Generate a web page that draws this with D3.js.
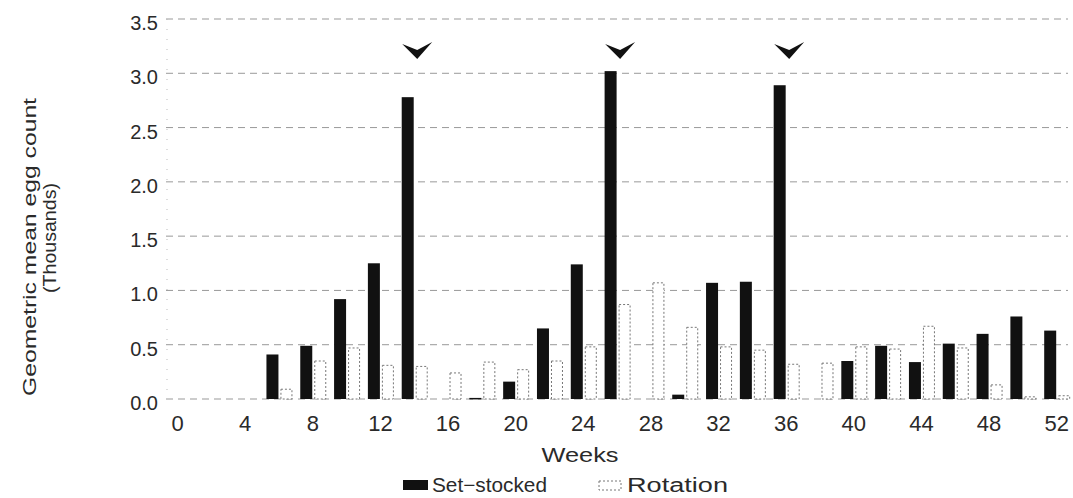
<!DOCTYPE html>
<html>
<head>
<meta charset="utf-8">
<script src="https://cdnjs.cloudflare.com/ajax/libs/d3/7.8.5/d3.min.js"></script>
<style>
  html, body { margin: 0; padding: 0; background: #fff; }
  svg { display: block; }
  text { font-family: "Liberation Sans", Arial, Helvetica, sans-serif; fill: #2a2a2a; }
</style>
</head>
<body>
<svg id="chart" width="1073" height="498"></svg>
<script>
// ---- data ----
const weeks = [0, 2, 4, 6, 8, 10, 12, 14, 16, 18, 20, 22, 24, 26, 28, 30, 32, 34, 36, 38, 40, 42, 44, 46, 48, 50, 52];
const setStocked = [0, 0, 0, 0.41, 0.49, 0.92, 1.25, 2.78, 0, 0.01, 0.16, 0.65, 1.24, 3.02, 0, 0.04, 1.07, 1.08, 2.89, 0, 0.35, 0.49, 0.34, 0.51, 0.60, 0.76, 0.63];
const rotation = [0, 0, 0, 0.09, 0.35, 0.47, 0.31, 0.30, 0.24, 0.34, 0.27, 0.35, 0.48, 0.87, 1.07, 0.66, 0.48, 0.45, 0.32, 0.33, 0.48, 0.46, 0.67, 0.47, 0.13, 0.02, 0.03];
const xTicks = [0, 4, 8, 12, 16, 20, 24, 28, 32, 36, 40, 44, 48, 52];
const yTicks = [0.0, 0.5, 1.0, 1.5, 2.0, 2.5, 3.0, 3.5];
const arrowWeeks = [14, 26, 36];
const seriesNames = ["Set\u2212stocked", "Rotation"];
const yTitle = ["Geometric mean egg count", "(Thousands)"];
const xTitle = "Weeks";

// ---- scales ----
const svg = d3.select("#chart");
const x = d3.scaleLinear().domain([0, 52]).range([177.5, 1056.7]);
const y = d3.scaleLinear().domain([0, 3.5]).range([399, 19]);

// gridlines
svg.append("g").selectAll("line").data(yTicks).join("line")
  .attr("x1", 166).attr("x2", 1068)
  .attr("y1", d => y(d)).attr("y2", d => y(d))
  .attr("stroke", "#999").attr("stroke-width", 1)
  .attr("stroke-dasharray", "7,5");

// faint y axis
svg.append("line").attr("x1", 167).attr("x2", 167).attr("y1", y(3.5)).attr("y2", y(0))
  .attr("stroke", "#bbb").attr("stroke-dasharray", "1,9");

// y tick labels
svg.append("g").selectAll("text").data(yTicks).join("text")
  .attr("x", 158).attr("y", d => y(d) + 4)
  .attr("text-anchor", "end").attr("dominant-baseline", "central")
  .style("font-size", "20px")
  .text(d => d.toFixed(1));

// x tick labels
svg.append("g").selectAll("text").data(xTicks).join("text")
  .attr("x", d => x(d)).attr("y", 431)
  .attr("text-anchor", "middle")
  .style("font-size", "22px")
  .text(d => d);

// rotation bars (open, dashed outline)
const rot = weeks.map((w, i) => ({ w, v: rotation[i] })).filter(d => d.v > 0);
svg.append("g").selectAll("rect").data(rot).join("rect")
  .attr("x", d => x(d.w) + 2).attr("width", 11)
  .attr("y", d => y(d.v)).attr("height", d => y(0) - y(d.v))
  .attr("fill", "#fff").attr("stroke", "#777").attr("stroke-width", 1)
  .attr("stroke-dasharray", "2,2");

// set-stocked bars
const ss = weeks.map((w, i) => ({ w, v: setStocked[i] })).filter(d => d.v > 0);
svg.append("g").selectAll("rect").data(ss).join("rect")
  .attr("x", d => x(d.w) - 12.5).attr("width", 12)
  .attr("y", d => y(d.v)).attr("height", d => Math.max(1.5, y(0) - y(d.v)))
  .attr("fill", "#111");

// arrows
svg.append("g").selectAll("path").data(arrowWeeks).join("path")
  .attr("transform", d => `translate(${x(d) + 3},51)`)
  .attr("d", "M-15,-7 L0,8 L15,-9 L0,-1 Z")
  .attr("fill", "#111");

// y title
const yt = svg.append("g");
yt.append("text").attr("transform", "translate(36,247) rotate(-90)")
  .attr("text-anchor", "middle").style("font-size", "18px")
  .attr("textLength", 298).attr("lengthAdjust", "spacingAndGlyphs")
  .text(yTitle[0]);
yt.append("text").attr("transform", "translate(56,238) rotate(-90)")
  .attr("text-anchor", "middle").style("font-size", "18px")
  .attr("textLength", 110).attr("lengthAdjust", "spacingAndGlyphs")
  .text(yTitle[1]);

// x title
svg.append("text").attr("x", 580).attr("y", 462)
  .attr("text-anchor", "middle").style("font-size", "21px")
  .attr("textLength", 77).attr("lengthAdjust", "spacingAndGlyphs")
  .text(xTitle);

// legend
const lg = svg.append("g");
lg.append("rect").attr("x", 403).attr("y", 480).attr("width", 25).attr("height", 10).attr("fill", "#111");
lg.append("text").attr("x", 432).attr("y", 492).style("font-size", "20px")
  .attr("textLength", 115).attr("lengthAdjust", "spacingAndGlyphs")
  .text(seriesNames[0]);
lg.append("rect").attr("x", 599).attr("y", 481).attr("width", 22).attr("height", 9)
  .attr("fill", "#fff").attr("stroke", "#777").attr("stroke-dasharray", "2,2");
lg.append("text").attr("x", 627).attr("y", 492).style("font-size", "20px")
  .attr("textLength", 101).attr("lengthAdjust", "spacingAndGlyphs")
  .text(seriesNames[1]);
</script>
</body>
</html>
